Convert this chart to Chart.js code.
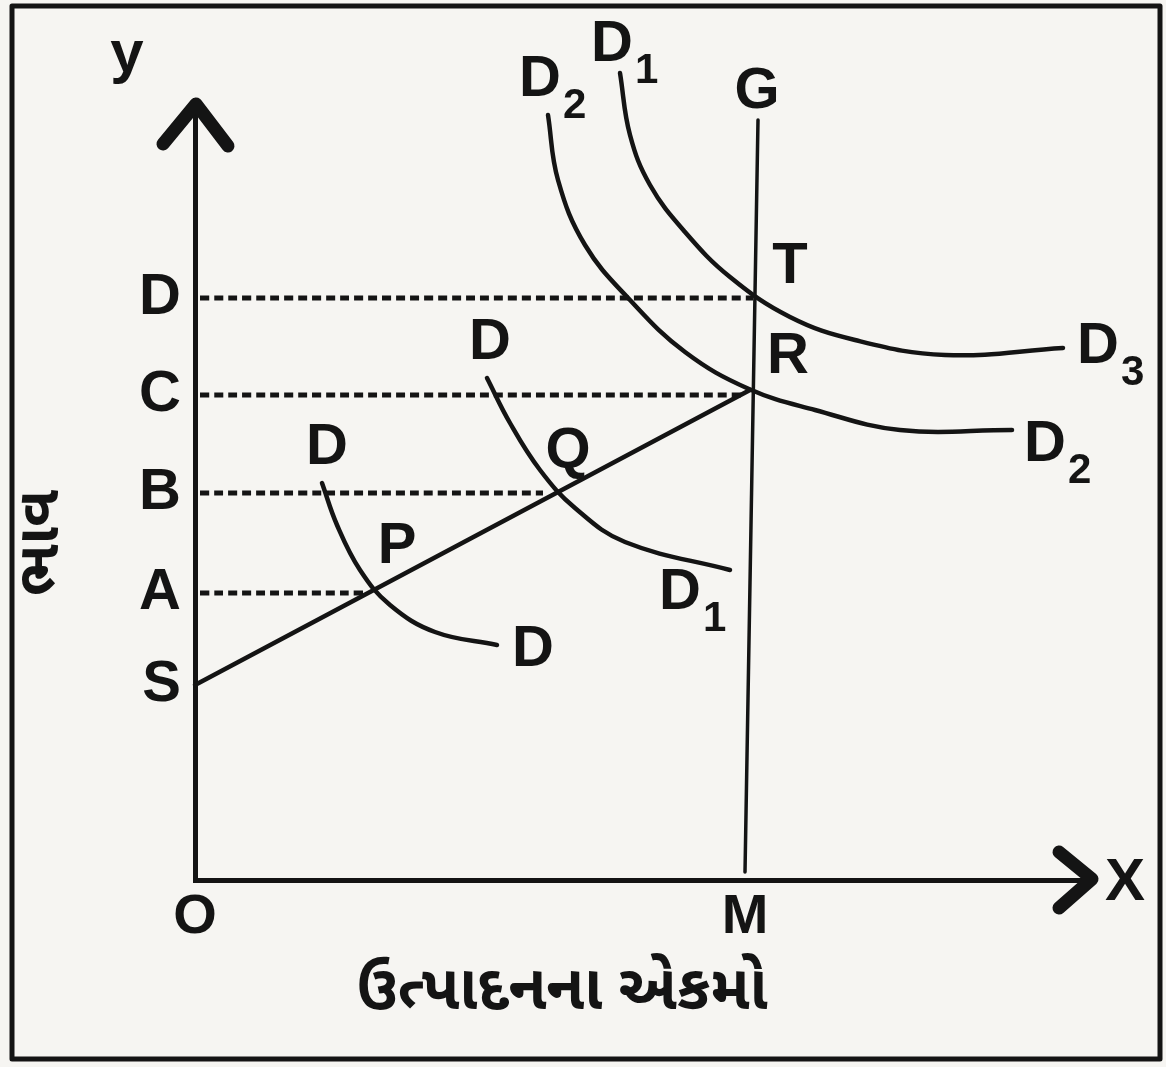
<!DOCTYPE html>
<html>
<head>
<meta charset="utf-8">
<script src="https://cdn.jsdelivr.net/npm/chart.js@4/dist/chart.umd.min.js"></script>
<style>
  html, body { margin: 0; padding: 0; background: #f6f5f2; }
  #wrap { width: 1166px; height: 1067px; }
</style>
</head>
<body>
<div id="wrap"><canvas id="c" width="1166" height="1067"></canvas></div>
<script>
// ---------- data ----------
const yTickVals = [19.5, 28.7, 38.7, 48.5, 58.2];
const yTickText = ["S", "A", "B", "C", "D"];
const xTickVals = [0, 55];
const xTickText = ["O", "M"];

// supply line S -> R
const supplyX = [0, 55.5];
const supplyY = [19.5, 49.0];

// vertical line G -> M
const gX = [56.3, 55.0];
const gY = [76.0, 0.8];

// demand curves
const ddX = [12.7, 14.2, 16.5, 19.5, 24.0, 30.2];
const ddY = [39.7, 35.5, 31.0, 27.5, 24.8, 23.5];

const d1X = [29.2, 31.5, 34.5, 38.0, 43.0, 53.5];
const d1Y = [50.2, 45.7, 41.0, 37.2, 33.8, 31.0];

const d2X = [35.3, 36.3, 39.0, 43.5, 49.0, 55.4, 62.0, 70.5, 81.7];
const d2Y = [76.5, 70.0, 63.5, 58.0, 52.8, 49.1, 47.0, 45.0, 45.0];

const d3X = [42.5, 43.5, 45.5, 49.0, 53.5, 59.5, 66.0, 75.0, 86.8];
const d3Y = [80.7, 74.5, 69.5, 64.8, 60.3, 56.3, 54.0, 52.5, 53.2];

// dashed price lines from the y axis
const dashY = [58.2, 48.5, 38.7, 28.7];
const dashEndX = [55.8, 55.0, 34.8, 16.8];

// point / curve labels [text, subscript, x, y]
const marks = [
  ["D", "", 13.2, 43.2],
  ["P", "", 20.2, 33.3],
  ["D", "", 33.8, 23.0],
  ["D", "", 29.5, 53.7],
  ["Q", "", 37.3, 42.8],
  ["D", "1", 48.5, 28.7],
  ["D", "2", 34.5, 80.0],
  ["D", "1", 41.7, 83.5],
  ["G", "", 56.2, 78.8],
  ["T", "", 59.5, 61.3],
  ["R", "", 59.3, 52.3],
  ["D", "3", 90.3, 53.3],
  ["D", "2", 85.0, 43.5],
];

const yTitle = "ભાવ";
const xTitle = "ઉત્પાદનના એકમો";

// ---------- helpers ----------
const INK = "#141414";
const FONT = '"Liberation Sans", Arial, sans-serif';
const pts = (xs, ys) => xs.map((x, i) => ({ x, y: ys[i] }));
const line = (xs, ys, extra) =>
  Object.assign(
    {
      data: pts(xs, ys),
      borderColor: INK,
      borderWidth: 4.5,
      pointRadius: 0,
      fill: false,
      tension: 0.4,
      borderCapStyle: "round",
    },
    extra || {}
  );

const datasets = [
  line(supplyX, supplyY),
  line(gX, gY, { borderWidth: 3.5 }),
  line(ddX, ddY),
  line(d1X, d1Y),
  line(d2X, d2Y),
  line(d3X, d3Y),
];
dashY.forEach((y, i) => {
  datasets.push(
    line([0.5, dashEndX[i]], [y, y], {
      borderDash: [9, 5],
      borderWidth: 5,
      borderCapStyle: "butt",
    })
  );
});

// ---------- plugins ----------
const paper = {
  id: "paper",
  beforeDraw(chart) {
    const ctx = chart.ctx;
    ctx.save();
    ctx.fillStyle = "#f6f5f2";
    ctx.fillRect(0, 0, chart.width, chart.height);
    ctx.restore();
  },
};

const decor = {
  id: "decor",
  afterDraw(chart) {
    const ctx = chart.ctx;
    const xs = chart.scales.x;
    const ys = chart.scales.y;
    const px = (v) => xs.getPixelForValue(v);
    const py = (v) => ys.getPixelForValue(v);
    const a = chart.chartArea;
    ctx.save();
    ctx.strokeStyle = INK;
    ctx.fillStyle = INK;
    ctx.lineCap = "round";
    ctx.lineJoin = "round";

    // frame
    ctx.lineWidth = 5;
    ctx.strokeRect(12, 6, chart.width - 18, chart.height - 14);

    // arrow heads
    ctx.lineWidth = 13;
    ctx.beginPath();
    ctx.moveTo(a.left - 32, a.top + 44);
    ctx.lineTo(a.left + 1, a.top + 4);
    ctx.lineTo(a.left + 33, a.top + 46);
    ctx.stroke();
    ctx.beginPath();
    ctx.moveTo(a.right - 36, a.bottom - 28);
    ctx.lineTo(a.right - 3, a.bottom - 1);
    ctx.lineTo(a.right - 36, a.bottom + 28);
    ctx.stroke();

    // axis letters
    ctx.textAlign = "center";
    ctx.textBaseline = "middle";
    ctx.font = "bold 60px " + FONT;
    ctx.fillText("y", a.left - 68, a.top - 45);
    ctx.fillText("X", a.right + 30, a.bottom + 3);

    // curve / point labels
    marks.forEach(([t, sub, x, y]) => {
      ctx.font = "bold 58px " + FONT;
      ctx.textAlign = "center";
      const w = ctx.measureText(t).width;
      ctx.fillText(t, px(x), py(y));
      if (sub) {
        ctx.font = "bold 42px " + FONT;
        ctx.textAlign = "left";
        ctx.fillText(sub, px(x) + w / 2 + 2, py(y) + 26);
      }
    });

    // axis titles (Gujarati)
    ctx.font = 'bold 62px "Noto Sans Gujarati", "Noto Sans", sans-serif';
    ctx.textAlign = "center";
    ctx.fillText(xTitle, 562, 997);
    ctx.translate(47, 543);
    ctx.rotate(-Math.PI / 2);
    ctx.font = 'bold 60px "Noto Sans Gujarati", "Noto Sans", sans-serif';
    ctx.fillText(yTitle, 0, 0);
    ctx.restore();
  },
};

// ---------- chart ----------
new Chart(document.getElementById("c").getContext("2d"), {
  type: "line",
  data: { datasets },
  options: {
    responsive: false,
    animation: false,
    clip: false,
    layout: { padding: { top: 100, right: 71, left: 0, bottom: 0 } },
    plugins: { legend: { display: false }, tooltip: { enabled: false } },
    scales: {
      x: {
        type: "linear",
        min: 0,
        max: 90,
        grid: { display: false, drawTicks: false },
        border: { display: true, color: INK, width: 5 },
        afterBuildTicks: (s) => (s.ticks = xTickVals.map((v) => ({ value: v }))),
        afterFit: (s) => (s.height = 187),
        ticks: {
          padding: 4,
          color: INK,
          font: { family: FONT, size: 56, weight: "bold" },
          callback: (v) => xTickText[xTickVals.indexOf(v)],
        },
      },
      y: {
        type: "linear",
        min: 0,
        max: 78,
        grid: { display: false, drawTicks: false },
        border: { display: true, color: INK, width: 5 },
        afterBuildTicks: (s) => (s.ticks = yTickVals.map((v) => ({ value: v }))),
        afterFit: (s) => (s.width = 195),
        ticks: {
          padding: 14,
          color: INK,
          font: { family: FONT, size: 58, weight: "bold" },
          callback: (v) => yTickText[yTickVals.indexOf(v)],
        },
      },
    },
  },
  plugins: [paper, decor],
});
</script>
</body>
</html>
